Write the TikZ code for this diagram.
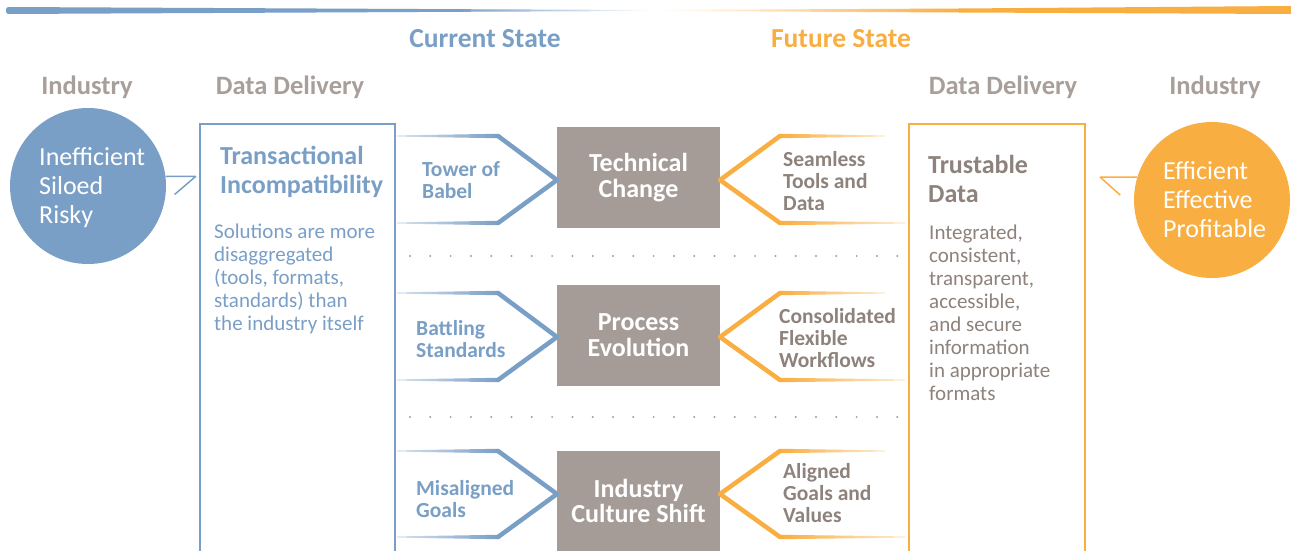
\documentclass[tikz,border=0pt]{standalone}
\usepackage{fontspec}
\setmainfont{Carlito}
\usepackage{xcolor}
\usepackage{tikz}
\usetikzlibrary{positioning}

\definecolor{curblue}{HTML}{7A9FC6}
\definecolor{futorange}{HTML}{F9AE41}
\definecolor{boxgrey}{HTML}{A69C97}
\definecolor{txtgrey}{HTML}{8E827C}
\definecolor{headgrey}{HTML}{A99F9A}

\begin{document}
\begin{tikzpicture}[x=1pt, y=-1pt,
                    every node/.append style = {inner sep = 0pt},
                    hdr/.style = {font=\fontsize{26.5}{30}\selectfont\bfseries, text=headgrey, anchor=base},
                    statehdr/.style = {font=\fontsize{27.5}{30}\selectfont\bfseries, anchor=base},
                    bubble/.style = {circle, minimum size=156pt},
                    bubtext/.style = {font=\fontsize{26}{29}\selectfont, text=white, align=left, anchor=base west},
                    boxtitle/.style = {font=\fontsize{26}{29}\selectfont\bfseries, align=left, anchor=base west},
                    boxbody/.style = {font=\fontsize{21}{22.9}\selectfont, align=left, anchor=base west},
                    changebox/.style = {fill=boxgrey, text=white, minimum width=163pt, minimum height=101pt,
                                        font=\fontsize{26}{25.5}\selectfont\bfseries, align=center},
                    rowlbl/.style = {font=\fontsize{21.5}{22}\selectfont\bfseries, align=left, anchor=base west},
                    chevblue/.style = {draw=curblue, line width=4.5pt, line join=round, line cap=round},
                    chevorange/.style = {draw=futorange, line width=4.5pt, line join=round, line cap=round},
                    dotrow/.style = {draw=gray!75, line width=2.2pt, line cap=round, dash pattern=on 0pt off 20.3pt}]
                \clip (0,0) rectangle (1291,551);
                \fill[white] (0,0) rectangle (1291,551);
                % top bar
                \fill[curblue] (8,7) -- (460,9.2) -- (460,11.8) -- (8,14) to[out=180,in=180] (8,7) -- cycle;
                \shade[left color=curblue, right color=white] (459,9.2) -- (650,10) -- (650,11) -- (459,11.8) -- cycle;
                \shade[left color=white, right color=futorange] (660,10) -- (960,8.5) -- (960,12.5) -- (660,11) -- cycle;
                \fill[futorange] (959,8.5) -- (1291,6) -- (1291,14) -- (959,12.5) -- cycle;
                \node[statehdr, text=curblue] (curstate) at (485,48) {Current State};
                \node[statehdr, text=futorange] (futstate) at (841,48) {Future State};
                % column headers
                \node[hdr] (curindhdr) at (87,95) {Industry};
                \node[hdr] (curdelhdr) at (290,95) {Data Delivery};
                \node[hdr] (futdelhdr) at (1003,95) {Data Delivery};
                \node[hdr] (futindhdr) at (1215,95) {Industry};
                % industry bubbles (base = last line)
                \node[bubble, fill=curblue] (curind) at (88,186) {};
                \node[bubtext] (curindtxt) at (39,223) {Inefficient\\Siloed\\Risky};
                \draw[curblue, line width=1.5pt, line join=round] (curind.7) -- ++(30,0) -- ++(-21,18);
                \node[bubble, fill=futorange] (futind) at (1212,200) {};
                \node[bubtext] (futindtxt) at (1163,237) {Efficient\\Effective\\Profitable};
                \draw[futorange, line width=1.5pt, line join=round] (futind.163) -- ++(-37,0) -- ++(20,18);
                % data delivery boxes
                \draw[curblue, line width=2pt] (200,560) -- (200,124) -- (395,124) -- (395,560);
                \node[boxtitle, text=curblue] (curdeltitle) at (220,193) {Transactional\\Incompatibility};
                \node[boxbody, text=curblue] (curdelbody) at (214,330) {Solutions are more\\disaggregated\\(tools, formats,\\standards) than\\the industry itself};
                \draw[futorange, line width=2pt] (909,560) -- (909,124) -- (1085,124) -- (1085,560);
                \node[boxtitle, text=txtgrey] (futdeltitle) at (928,202) {Trustable\\Data};
                \node[boxbody, text=txtgrey] (futdelbody) at (929,400) {Integrated,\\consistent,\\transparent,\\accessible,\\and secure\\information\\in appropriate\\formats};
                % changes
                \node[changebox] (tech) at (638.5,177.5) {Technical\\Change};
                \node[changebox] (proc) at (638.5,335) {Process\\Evolution};
                \node[changebox] (cult) at (638.5,501) {Industry\\Culture Shift};
                \foreach \yt/\yp/\yb in {136/180/223, 293/337/380, 451/494/537}{
                    \shade[left color=curblue!30, right color=curblue] (397,\yt-0.6) -- (498,\yt-2.2) -- (498,\yt+2.2) -- (397,\yt+0.6) -- cycle;
                    \shade[left color=curblue!30, right color=curblue] (397,\yb-0.6) -- (498,\yb-2.2) -- (498,\yb+2.2) -- (397,\yb+0.6) -- cycle;
                    \draw[chevblue] (498,\yt) -- (557,\yp) -- (498,\yb);
                    \shade[left color=futorange, right color=futorange!25] (780,\yt-2.2) -- (885,\yt-0.6) -- (885,\yt+0.6) -- (780,\yt+2.2) -- cycle;
                    \shade[left color=futorange, right color=futorange!25] (780,\yb-2.2) -- (905,\yb-0.6) -- (905,\yb+0.6) -- (780,\yb+2.2) -- cycle;
                    \draw[chevorange] (780,\yt) -- (720,\yp) -- (780,\yb);
                }
                \node[rowlbl, text=curblue] (techcur) at (422,198) {Tower of\\Babel};
                \node[rowlbl, text=curblue] (proccur) at (416,357) {Battling\\Standards};
                \node[rowlbl, text=curblue] (cultcur) at (416,517) {Misaligned\\Goals};
                \node[rowlbl, text=txtgrey] (techfut) at (783,210) {Seamless\\Tools and\\Data};
                \node[rowlbl, text=txtgrey] (procfut) at (779,367) {Consolidated\\Flexible\\Workflows};
                \node[rowlbl, text=txtgrey] (cultfut) at (783,522) {Aligned\\Goals and\\Values};
                % dotted separators
                \coordinate (sepa) at (410,256);
                \coordinate (sepb) at (900,256);
                \coordinate (sepc) at (410,417);
                \coordinate (sepd) at (900,417);
                \draw[dotrow] (sepa) -- (sepb);
                \draw[dotrow] (sepc) -- (sepd);
                \end{tikzpicture}
\end{document}
